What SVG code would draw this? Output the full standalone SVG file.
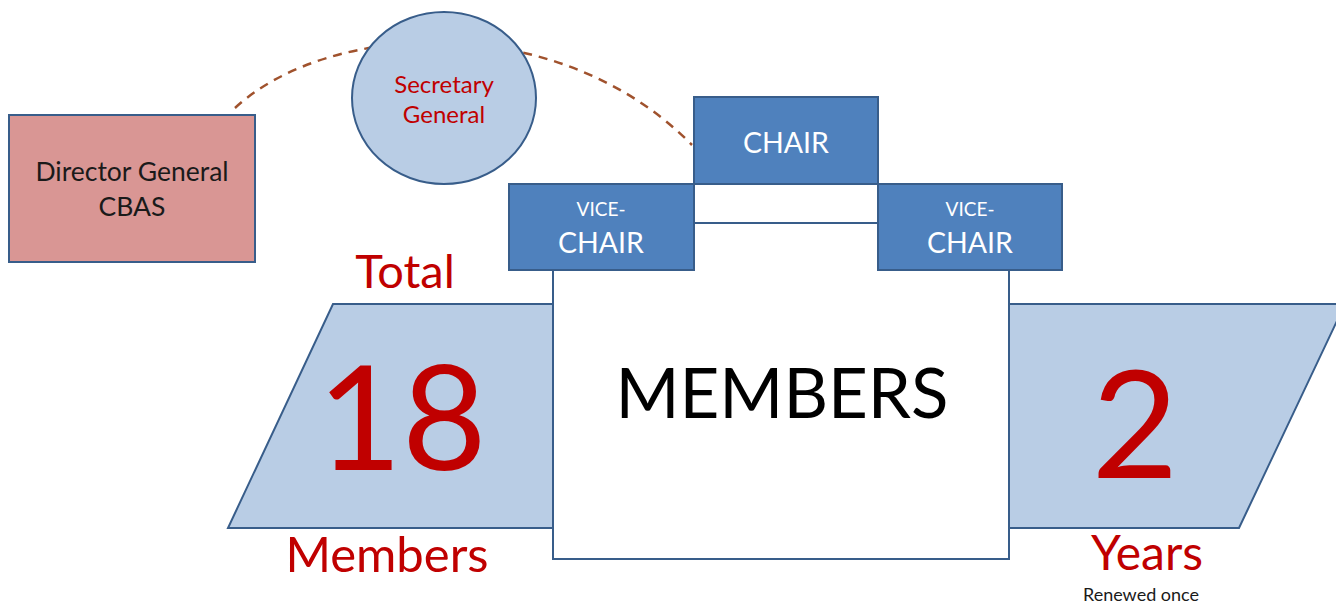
<svg xmlns="http://www.w3.org/2000/svg" width="1336" height="604" viewBox="0 0 1336 604">
<style>
text{font-family:Lato,"Open Sans","Liberation Sans",sans-serif;text-anchor:middle}
.blue{fill:#4f81bd;stroke:#385d8a;stroke-width:2}
.light{fill:#b9cde5;stroke:#385d8a;stroke-width:2}
.red{fill:#c00000}
.w{fill:#ffffff}
</style>
<rect width="1336" height="604" fill="#ffffff"/>
<g id="connectors">
<path d="M235,108 C330,20 560,10 692,145" fill="none" stroke="#a0522d" stroke-width="2.5" stroke-dasharray="9,7"/>
</g>
<g id="left-panel">
<polygon class="light" points="333,304 600,304 600,528 228,528"/>
<text class="red" x="402" y="470" font-size="146">18</text>
</g>
<g id="right-panel">
<polygon class="light" points="960,304 1345,304 1239,528 960,528"/>
<text class="red" x="1135" y="478" font-size="150">2</text>
</g>
<g id="members">
<rect x="553" y="223" width="456" height="336" fill="#ffffff" stroke="#385d8a" stroke-width="2"/>
<text x="782" y="418" font-size="69" fill="#000000">MEMBERS</text>
</g>
<g id="director">
<rect x="9" y="115" width="246" height="147" fill="#d99694" stroke="#385d8a" stroke-width="2"/>
<text x="132" y="181" font-size="26.5" fill="#1a1a1a">Director General</text>
<text x="132" y="216" font-size="26.5" fill="#1a1a1a">CBAS</text>
</g>
<g id="secretary">
<ellipse class="light" cx="444" cy="98" rx="92" ry="86"/>
<text class="red" x="444" y="93" font-size="24">Secretary</text>
<text class="red" x="444" y="123" font-size="24">General</text>
</g>
<g id="chair">
<rect class="blue" x="694" y="97" width="184" height="87"/>
<text class="w" x="786" y="153" font-size="28.5">CHAIR</text>
</g>
<g id="vice-left">
<rect class="blue" x="509" y="184" width="185" height="86"/>
<text class="w" x="601" y="216" font-size="19">VICE-</text>
<text class="w" x="601" y="253" font-size="28.5">CHAIR</text>
</g>
<g id="vice-right">
<rect class="blue" x="878" y="184" width="184" height="86"/>
<text class="w" x="970" y="216" font-size="19">VICE-</text>
<text class="w" x="970" y="253" font-size="28.5">CHAIR</text>
</g>
<g id="labels">
<text class="red" x="405" y="288" font-size="47">Total</text>
<text class="red" x="387" y="572" font-size="49">Members</text>
<text class="red" x="1147" y="570" font-size="48">Years</text>
<text x="1141" y="601" font-size="18" fill="#1a1a1a">Renewed once</text>
</g>
</svg>
